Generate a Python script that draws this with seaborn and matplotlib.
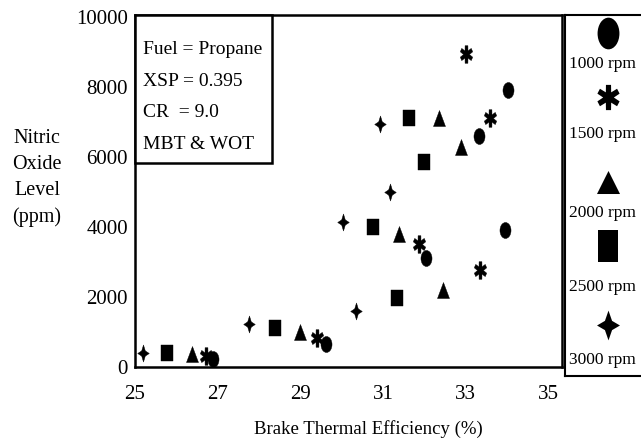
import matplotlib
matplotlib.use("Agg")
import numpy as np
import matplotlib.pyplot as plt
from matplotlib.path import Path
from matplotlib.transforms import Affine2D
from matplotlib.patches import Rectangle
import seaborn as sns
import pandas as pd

# ---- data ----
series = ["1000 rpm", "1500 rpm", "2000 rpm", "2500 rpm", "3000 rpm"]
eff_1000 = [26.88, 29.62, 32.03, 33.94, 33.31, 34.02]
nox_1000 = [220, 650, 3120, 3900, 6600, 7900]
eff_1500 = [26.71, 29.40, 31.87, 33.34, 33.59, 33.00]
nox_1500 = [310, 840, 3500, 2760, 7120, 8930]
eff_2000 = [26.38, 29.00, 32.44, 31.38, 32.88, 32.36]
nox_2000 = [380, 1000, 2200, 3800, 6270, 7100]
eff_2500 = [25.77, 28.38, 31.35, 30.75, 31.99, 31.63]
nox_2500 = [410, 1120, 1960, 4000, 5860, 7100]
eff_3000 = [25.19, 27.76, 30.34, 30.02, 31.16, 30.92]
nox_3000 = [410, 1220, 1600, 4150, 5010, 6950]
x_ticks = [25, 27, 29, 31, 33, 35]
y_ticks = [0, 2000, 4000, 6000, 8000, 10000]
info_lines = ["Fuel = Propane", "XSP = 0.395", "CR  = 9.0", "MBT & WOT"]

effs = [eff_1000, eff_1500, eff_2000, eff_2500, eff_3000]
noxs = [nox_1000, nox_1500, nox_2000, nox_2500, nox_3000]
rows = []
for name, xs, ys in zip(series, effs, noxs):
    for a, b in zip(xs, ys):
        rows.append({"eff": a, "nox": b, "speed": name})
df = pd.DataFrame(rows)


# ---- condensed marker shapes (taller than wide, as in the reference) ----
def ellipse(wx):
    return Path.unit_circle().transformed(Affine2D().scale(wx, 1.0))


def poly(pts):
    pts = list(pts) + [pts[0]]
    codes = [Path.MOVETO] + [Path.LINETO] * (len(pts) - 2) + [Path.CLOSEPOLY]
    return Path(np.array(pts, float), codes)


def asterisk(wx, inner=0.46, half=0.22):
    pts = []
    for k in range(6):
        a = np.pi / 2 + k * np.pi / 3
        for d in (-half, half):
            pts.append((np.cos(a + d), np.sin(a + d)))
        b = a + np.pi / 6
        pts.append((inner * np.cos(b), inner * np.sin(b)))
    pts = [(x * wx, y) for x, y in pts]
    return poly(pts)


def star4(wx, inner=0.44):
    pts = []
    for k in range(4):
        a = np.pi / 2 + k * np.pi / 2
        pts.append((np.cos(a), np.sin(a)))
        b = a + np.pi / 4
        pts.append((inner * np.cos(b), inner * np.sin(b)))
    pts = [(x * wx, y) for x, y in pts]
    return poly(pts)


markers_main = {
    "1000 rpm": ellipse(0.69),
    "1500 rpm": asterisk(0.72),
    "2000 rpm": poly([(0, 1), (-0.75, -1), (0.75, -1)]),
    "2500 rpm": poly([(-0.7, -1), (0.7, -1), (0.7, 1), (-0.7, 1)]),
    "3000 rpm": star4(0.68),
}
markers_leg = {
    "1000 rpm": ellipse(0.69),
    "1500 rpm": asterisk(0.9),
    "2000 rpm": poly([(0, 1), (-1, -1), (1, -1)]),
    "2500 rpm": poly([(-0.66, -1), (0.66, -1), (0.66, 1), (-0.66, 1)]),
    "3000 rpm": star4(0.77),
}
sizes_main = {"1000 rpm": 133, "1500 rpm": 160, "2000 rpm": 133,
              "2500 rpm": 133, "3000 rpm": 150}
sizes_leg = {"1000 rpm": 520, "1500 rpm": 330, "2000 rpm": 275,
             "2500 rpm": 520, "3000 rpm": 460}

sns.set_theme(style="white")
plt.rcParams["font.family"] = ["Liberation Serif", "DejaVu Serif"]

fig = plt.figure(figsize=(6.41, 4.45), dpi=100)
ax = fig.add_axes([135 / 641, 1 - 367 / 445, (562 - 135) / 641, (367 - 15) / 445])

for name in series:
    sub = df[df["speed"] == name]
    sns.scatterplot(data=sub, x="eff", y="nox", marker=markers_main[name],
                    s=sizes_main[name], color="black", edgecolor="black",
                    linewidth=0.3, ax=ax, legend=False, zorder=3)

ax.set_xlim(25, 35.33)
ax.set_ylim(0, 10050)
ax.set_xticks(x_ticks)
ax.set_yticks(y_ticks)
ax.set_xticklabels([str(t) for t in x_ticks])
ax.set_yticklabels([str(t) for t in y_ticks])
ax.tick_params(axis="both", length=0, labelsize=15, colors="black")
ax.tick_params(axis="x", pad=13)
ax.tick_params(axis="y", pad=5)
for sp in ax.spines.values():
    sp.set_visible(True)
    sp.set_color("black")
    sp.set_linewidth(1.8)
ax.set_xlabel("Brake Thermal Efficiency (%)", fontsize=13.5, color="black")
ax.xaxis.set_label_coords(0.546, -0.15)
ax.set_ylabel("")
ax.grid(False)

fig.text(37 / 641, 1 - 178 / 445, "Nitric\nOxide\nLevel\n(ppm)", fontsize=14.5,
         ha="center", va="center", linespacing=1.5, color="black")

# info box
ax.add_patch(Rectangle((0, 0.58), 0.321, 0.42, transform=ax.transAxes,
                       facecolor="white", edgecolor="black", linewidth=1.8,
                       zorder=5, clip_on=False))
for line, yy in zip(info_lines, [0.9006, 0.8097, 0.7216, 0.6307]):
    ax.text(0.0187, yy, line, transform=ax.transAxes, fontsize=14,
            ha="left", va="center", color="black", zorder=6)

# legend panel on the right (extends past the figure edge as in the reference)
lax = fig.add_axes([565 / 641, 1 - 376 / 445, 0.2, (376 - 15) / 445])
lax.set_xlim(0, 1)
lax.set_ylim(1, 0)
lax.set_xticks([])
lax.set_yticks([])
for sp in lax.spines.values():
    sp.set_color("black")
    sp.set_linewidth(1.5)
marker_y = [0.05, 0.228, 0.462, 0.64, 0.858]
text_y = [0.135, 0.33, 0.548, 0.753, 0.955]
for name, my, ty in zip(series, marker_y, text_y):
    lax.scatter([0.335], [my], marker=markers_leg[name], s=sizes_leg[name],
                color="black", linewidth=0, clip_on=False)
    lax.text(0.035, ty, name, fontsize=12.5, ha="left", va="center", color="black")

fig.savefig("out.png", dpi=100)
